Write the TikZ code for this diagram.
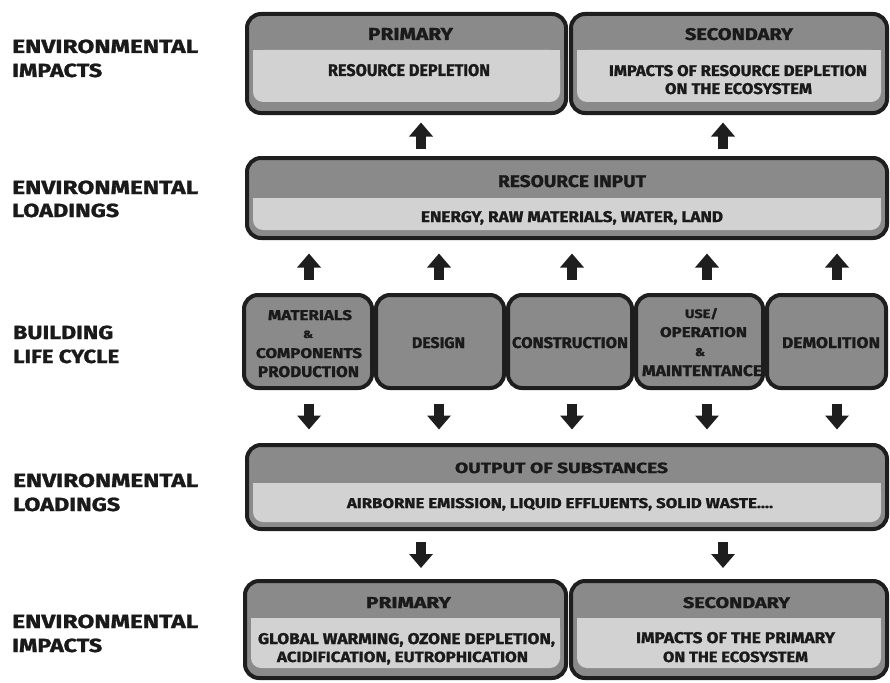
\documentclass[tikz,border=0pt]{standalone}
\usepackage{fontspec}
\setmainfont{Fira Sans}[BoldFeatures={FakeBold=1.2}]
\usepackage{graphicx}
\usetikzlibrary{arrows.meta}
\definecolor{edge}{HTML}{1E1E1E}
\definecolor{dark}{HTML}{8A8A8A}
\definecolor{band}{HTML}{D2D2D2}
\definecolor{ink}{HTML}{1A1A1A}
\newcommand\fitt[3]{\resizebox{#1pt}{#2pt}{\bfseries #3}}
\newcommand\bandfill[4]{%
  \fill[band, rounded corners=10pt] (#1,#2) rectangle (#3,#4);
  \fill[band] (#1,#2) rectangle (#3,#2+14);}
\tikzset{
  panel/.style={draw=edge, line width=4pt, fill=dark, rounded corners=14pt, inner sep=0pt},
  txt/.style={inner sep=0pt, anchor=base, text=ink},
  lbl/.style={inner sep=0pt, anchor=base west, text=ink},
  bigarr/.style={draw=edge, line width=10pt, -{Triangle[width=23pt,length=14pt]}},
}
\begin{document}
\begin{tikzpicture}[x=1pt,y=-1pt]
\useasboundingbox (0,0) rectangle (890,682);

% ---- left labels
\node[lbl] (l1a) at (12,53) {\fitt{186}{13.5}{ENVIRONMENTAL}};
\node[lbl] (l1b) at (12,77) {\fitt{90}{13.5}{IMPACTS}};
\node[lbl] (l2a) at (12,194) {\fitt{186}{13.5}{ENVIRONMENTAL}};
\node[lbl] (l2b) at (12,217) {\fitt{107}{13.5}{LOADINGS}};
\node[lbl] (l3a) at (13,339) {\fitt{100}{13.5}{BUILDING}};
\node[lbl] (l3b) at (13,363) {\fitt{106}{13.5}{LIFE CYCLE}};
\node[lbl] (l4a) at (13,487) {\fitt{185}{13.5}{ENVIRONMENTAL}};
\node[lbl] (l4b) at (13,511) {\fitt{107}{13.5}{LOADINGS}};
\node[lbl] (l5a) at (12,628) {\fitt{186}{13.5}{ENVIRONMENTAL}};
\node[lbl] (l5b) at (12,652) {\fitt{90}{13.5}{IMPACTS}};

% ---- top impacts
\node[panel, minimum width=319pt, minimum height=99pt] (p1) at (406.5,63.5) {};
\node[panel, minimum width=316pt, minimum height=99pt] (s1) at (729,63.5) {};
\bandfill{253}{50}{560}{102}
\bandfill{577}{50}{881}{102}
\node[txt] (p1h) at (410.5,40) {\fitt{85}{12}{PRIMARY}};
\node[txt] (p1b) at (409,76) {\fitt{162}{12}{RESOURCE DEPLETION}};
\node[txt] (s1h) at (739,40) {\fitt{108}{12}{SECONDARY}};
\node[txt] (s1b) at (738,76) {\fitt{258}{11}{IMPACTS OF RESOURCE DEPLETION}};
\node[txt] (s1c) at (738.5,94) {\fitt{147}{11}{ON THE ECOSYSTEM}};

% ---- resource input
\node[panel, minimum width=640pt, minimum height=80pt] (ri) at (567,198) {};
\bandfill{253}{198}{881}{230}
\node[txt] (rih) at (572,187) {\fitt{148}{12}{RESOURCE INPUT}};
\node[txt] (rib) at (572,222) {\fitt{302}{11}{ENERGY, RAW MATERIALS, WATER, LAND}};

% ---- life cycle
\node[panel, minimum width=128pt, minimum height=93pt] (lc1) at (308,341.5) {};
\node[panel, minimum width=128pt, minimum height=93pt] (lc2) at (440,341.5) {};
\node[panel, minimum width=124pt, minimum height=93pt] (lc3) at (570,341.5) {};
\node[panel, minimum width=127pt, minimum height=93pt] (lc4) at (699.5,341.5) {};
\node[panel, minimum width=119pt, minimum height=93pt] (lc5) at (826.5,341.5) {};
\node[txt] (t1a) at (310,320) {\fitt{84}{10}{MATERIALS}};
\node[txt] (t1b) at (308,338) {\fitt{10}{7.5}{\&}};
\node[txt] (t1c) at (309,358) {\fitt{106}{10}{COMPONENTS}};
\node[txt] (t1d) at (308.5,377) {\fitt{101}{11}{PRODUCTION}};
\node[txt] (t2) at (438.5,348) {\fitt{53}{11}{DESIGN}};
\node[txt] (t3) at (570,348) {\fitt{116}{11}{CONSTRUCTION}};
\node[txt] (t4a) at (701.5,318) {\fitt{33}{10}{USE/}};
\node[txt] (t4b) at (703.5,337) {\fitt{87}{10}{OPERATION}};
\node[txt] (t4c) at (700,356) {\fitt{10}{8}{\&}};
\node[txt] (t4d) at (702,376) {\fitt{120}{11}{MAINTENTANCE}};
\node[txt] (t5) at (831,348) {\fitt{98}{11}{DEMOLITION}};

% ---- output of substances
\node[panel, minimum width=640pt, minimum height=84pt] (out) at (567,487) {};
\bandfill{253}{483}{881}{522}
\node[txt] (outh) at (561.5,473) {\fitt{213}{10.5}{OUTPUT OF SUBSTANCES}};
\node[txt] (outb) at (560,508) {\fitt{426}{10}{AIRBORNE EMISSION, LIQUID EFFLUENTS, SOLID WASTE....}};

% ---- bottom impacts
\node[panel, minimum width=321pt, minimum height=97pt] (p2) at (405.5,629.5) {};
\node[panel, minimum width=316pt, minimum height=97pt] (s2) at (729,629.5) {};
\bandfill{251}{618}{560}{668}
\bandfill{577}{618}{881}{668}
\node[txt] (p2h) at (408.5,608) {\fitt{85}{11}{PRIMARY}};
\node[txt] (p2b) at (406.5,644) {\fitt{297}{11}{GLOBAL WARMING, OZONE DEPLETION,}};
\node[txt] (p2c) at (402.5,662) {\fitt{251}{10.5}{ACIDIFICATION, EUTROPHICATION}};
\node[txt] (s2h) at (736.5,608) {\fitt{107}{11}{SECONDARY}};
\node[txt] (s2b) at (735.5,643) {\fitt{199}{11}{IMPACTS OF THE PRIMARY}};
\node[txt] (s2c) at (735.5,662) {\fitt{145}{10.5}{ON THE ECOSYSTEM}};

% ---- arrow columns
\coordinate (ca) at (421,0);
\coordinate (cb) at (723,0);
\coordinate (c1) at (309,0);
\coordinate (c2) at (439,0);
\coordinate (c3) at (572,0);
\coordinate (c4) at (707,0);
\coordinate (c5) at (837,0);

% resource input -> top impacts
\draw[bigarr, shorten <=7.5pt, shorten >=7.5pt] (ri.north -| ca) -- (p1.south -| ca);
\draw[bigarr, shorten <=7.5pt, shorten >=7.5pt] (ri.north -| cb) -- (s1.south -| cb);
% life cycle -> resource input
\foreach \i in {1,...,5}{
  \draw[bigarr, shorten <=13.5pt, shorten >=13.5pt] (lc\i.north -| c\i) -- (ri.south -| c\i);
  \draw[bigarr, shorten <=13.5pt, shorten >=13.5pt] (lc\i.south -| c\i) -- (out.north -| c\i);
}
% output -> bottom impacts
\draw[bigarr, shorten <=11pt, shorten >=11pt] (out.south -| ca) -- (p2.north -| ca);
\draw[bigarr, shorten <=11pt, shorten >=11pt] (out.south -| cb) -- (s2.north -| cb);
\end{tikzpicture}
\end{document}
